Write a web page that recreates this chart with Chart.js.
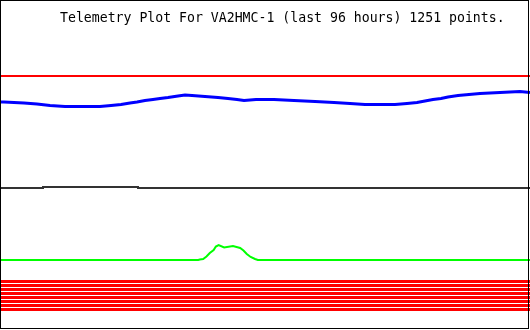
<!DOCTYPE html>
<html>
<head>
<meta charset="utf-8">
<script src="https://cdn.jsdelivr.net/npm/chart.js@4"></script>
<style>
  html, body { margin: 0; padding: 0; background: #ffffff; }
  canvas { display: block; }
</style>
</head>
<body>
<canvas id="c" width="530" height="330"></canvas>
<script>
// ---- Data (x in hours over the last 96 h, y in raw telemetry units) ----
const titleText = "Telemetry Plot For VA2HMC-1 (last 96 hours) 1251 points.";
const hoursSpan = 96;

// Channel A (red, flat)
const chanAHours  = [0, 96];
const chanAValues = [254, 254];

// Channel B (blue, slow variation)
const chanBHours  = [0, 0.72, 4.35, 6.70, 9.06, 11.77, 18.11, 20.11, 21.92, 23.55, 24.82, 26.26, 27.71, 28.98, 30.43, 32.24, 33.51, 34.78, 37.13, 39.49, 41.30, 42.93, 44.20, 46.37, 49.63, 53.25, 57.06, 60.50, 63.40, 66.11, 71.55, 73.72, 75.53, 76.98, 78.43, 79.88, 81.15, 82.96, 84.95, 86.94, 90.57, 94.19, 96];
const chanBValues = [228, 228, 227, 226, 224.5, 223.5, 223.5, 224.5, 225.5, 227, 228, 229.5, 230.5, 231.5, 232.5, 234, 235, 234.5, 233.5, 232.5, 231.5, 230.5, 229.5, 230.5, 230.5, 229.5, 228.5, 227.5, 226.5, 225.5, 225.5, 226.5, 227.5, 229, 230.5, 231.5, 233, 234.5, 235.5, 236.5, 237.5, 238.5, 237.5];

// Channel C (dark grey, stepped)
const chanCHours  = [0, 7.79, 25.0, 96];
const chanCValues = [142, 143, 142, 142];

// Channel D (green, with a bump)
const chanDHours  = [0, 32.6, 35.9, 36.2, 36.8, 37.4, 38.0, 38.7, 39.1, 39.6, 40.6, 42.2, 43.5, 44.1, 44.7, 45.4, 46.2, 46.7, 96];
const chanDValues = [70, 70, 70, 70.5, 71, 73.5, 77, 80, 83.5, 85, 82.5, 84, 82, 79.5, 76, 73, 71, 70, 70];

// Digital bits (red, flat stripes)
const bitLevels = [48.5, 44.5, 40.5, 36.5, 32.5, 28.5, 24.5, 20.5];

const yMin = 0, yMax = 330;

// ---- Build datasets ----
function pts(xs, ys) { return xs.map((x, i) => ({ x: x, y: ys[i] })); }

const datasets = [
  { data: pts(chanAHours, chanAValues), borderColor: '#ff0000', borderWidth: 2 },
  { data: pts(chanBHours, chanBValues), borderColor: '#0000ff', borderWidth: 3 },
  { data: pts(chanCHours, chanCValues), borderColor: '#333333', borderWidth: 2, stepped: true },
  { data: pts(chanDHours, chanDValues), borderColor: '#00ff00', borderWidth: 2 }
];
bitLevels.forEach(v => {
  datasets.push({ data: pts([0, hoursSpan], [v, v]), borderColor: '#ff0000', borderWidth: 3 });
});
datasets.forEach(d => { d.pointRadius = 0; d.tension = 0; d.fill = false; });

const framePlugin = {
  id: 'frame',
  afterDraw(chart) {
    const ctx = chart.ctx, a = chart.chartArea;
    ctx.save();
    ctx.strokeStyle = '#000000';
    ctx.lineWidth = 1;
    ctx.strokeRect(a.left + 0.5, a.top + 0.5, a.right - a.left - 2, a.bottom - a.top - 2);
    ctx.fillStyle = '#000000';
    ctx.font = "13.2px 'DejaVu Sans Mono', monospace";
    ctx.textBaseline = 'alphabetic';
    ctx.textAlign = 'left';
    ctx.fillText(titleText, a.left + 60, a.top + 22);
    ctx.restore();
  }
};

new Chart(document.getElementById('c'), {
  type: 'line',
  data: { datasets: datasets },
  options: {
    responsive: false,
    devicePixelRatio: 1,
    animation: false,
    layout: { padding: 0 },
    plugins: { legend: { display: false }, tooltip: { enabled: false }, title: { display: false } },
    scales: {
      x: { type: 'linear', min: 0, max: hoursSpan, display: false },
      y: { type: 'linear', min: yMin, max: yMax, display: false }
    }
  },
  plugins: [framePlugin]
});
</script>
</body>
</html>
